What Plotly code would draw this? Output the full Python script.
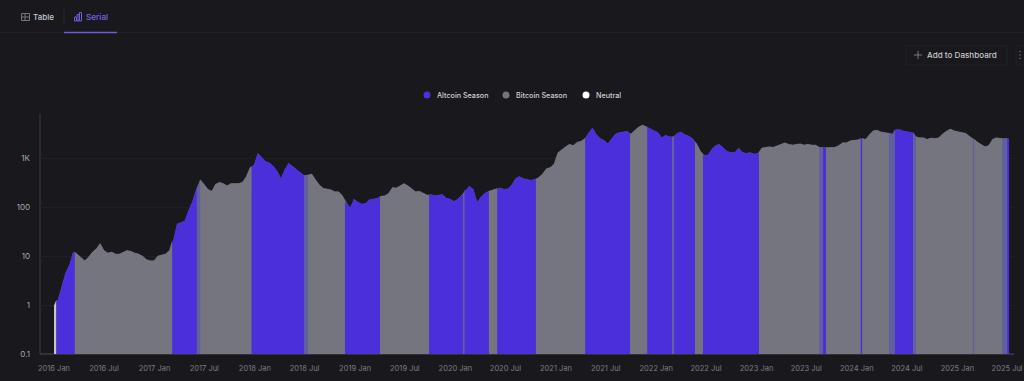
import numpy as np
import pandas as pd
import plotly.graph_objects as go

BG = "#18181d"
BLUE = "#4a2fdb"
GRAY = "#75757f"
MIX = "#625f9e"
NEUTRAL = "#c8c8cc"

# Price, one reading every 14 days from 2016-01-01
price_2016 = [.95,1.25,2.3,4.5,6.5,12,11,9.5,8,9.5,12,14,18,13,11.5,12,11,11,12,13,12.5,11.5,11,10,8.5,8,8]
price_2017 = [10,10.5,11,13,20,45,48,52,85,130,230,360,290,230,210,290,320,300,270,300,300,300,320,420,650,720]
price_2018 = [1250,1050,850,800,680,540,380,580,780,680,580,500,440,450,470,360,280,240,235,225,205,205,170,125,95,145]
price_2019 = [125,115,118,140,145,150,165,170,190,250,245,270,300,270,235,205,210,190,175,180,170,175,180,150,145,130]
price_2020 = [145,175,220,265,230,125,160,190,210,225,235,245,230,235,280,380,420,380,360,350,370,400,470,600,640,750]
price_2021 = [1280,1500,1700,1900,1800,2100,2200,2500,3300,4100,3000,2500,2300,1950,2500,3100,3300,3400,3500,3100,3700,4300,4700,4300,4000,3700]
price_2022 = [3300,2600,2900,2700,2700,3200,3400,3000,2800,2500,2000,1400,1150,1150,1500,1800,1900,1600,1350,1300,1300,1600,1300,1250,1300,1200]
price_2023 = [1250,1600,1650,1700,1650,1800,1900,2050,1900,1850,1900,1950,1850,1900,1850,1850,1650,1650,1600,1650,1650,1800,2050,2050,2250,2300]
price_2024 = [2350,2500,2400,3000,3600,3700,3400,3300,3200,3100,3800,3750,3500,3400,3300,2700,2600,2600,2400,2550,2500,2600,3100,3500,3900,3600]
price_2025 = [3400,3300,3200,2800,2400,2100,1900,1700,1800,2400,2600,2500,2500,2500]
prices = price_2016 + price_2017 + price_2018 + price_2019 + price_2020 + price_2021 + price_2022 + price_2023 + price_2024 + price_2025
dates = pd.date_range("2016-01-01", periods=len(prices), freq="14D")

# Season regimes: each begins on the date given and runs to the next one
season_dates = ["2016-01-01","2016-01-10","2016-03-17","2017-03-06","2017-06-04","2017-06-17","2017-12-20",
                "2018-06-29","2018-07-14","2018-11-25","2019-04-02","2019-09-27","2020-01-29","2020-02-03",
                "2020-05-02","2020-06-01","2020-10-20","2021-04-17","2021-09-28","2021-11-29","2022-02-28",
                "2022-03-07","2022-05-22","2022-06-20","2023-01-10","2023-08-17","2023-08-31","2023-09-11",
                "2024-01-15","2024-01-21","2024-04-27","2024-05-19","2024-07-24","2024-08-04","2025-02-26",
                "2025-03-04","2025-06-13","2025-07-01","2025-07-08"]
season_kinds = ["N","A","B","A","M","B","A",
                "M","B","A","B","A","M","A",
                "B","A","B","A","B","A","M",
                "A","B","A","B","M","A","B",
                "A","B","M","A","M","B","M",
                "B","M","A"]
legend_names = ["Altcoin Season", "Bitcoin Season", "Neutral"]
legend_colors = [BLUE, GRAY, "#ffffff"]
y_tick_values = [0.1, 1, 10, 100, 1000]
y_tick_labels = ["0.1", "1", "10", "100", "1K"]

COLORS = {"A": BLUE, "B": GRAY, "M": MIX, "N": NEUTRAL}
sd = pd.to_datetime(season_dates)
pr = np.array(prices, dtype=float)

def nearest(d):
    return pr[int(np.argmin(np.abs((dates - d).days)))]

fig = go.Figure()
# Underlay keeps the seams between regimes from showing the dark background
under = dates >= sd[1]
fig.add_trace(go.Scatter(x=dates[under], y=pr[under], mode="lines", line=dict(width=0, color=GRAY),
                         fill="tozeroy", fillcolor=GRAY, showlegend=False, hoverinfo="skip"))
for i, k in enumerate(season_kinds):
    a, b = sd[i], sd[i + 1]
    mask = (dates > a) & (dates < b)
    xs = [a] + list(dates[mask]) + [b]
    ys = [nearest(a)] + list(pr[mask]) + [nearest(b)]
    fig.add_trace(go.Scatter(x=xs, y=ys, mode="lines", line=dict(width=0.4, color=COLORS[k]),
                             fill="tozeroy", fillcolor=COLORS[k], showlegend=False, hoverinfo="skip"))

L, R, T, B = 40, 1014, 114, 354
def px(x):
    return (x - L) / (R - L)
def py(y):
    return (B - y) / (B - T)

shapes = []
def rect(x0, y0, x1, y1, line=None, fill=None, w=1):
    shapes.append(dict(type="rect", xref="paper", yref="paper", x0=px(x0), x1=px(x1), y0=py(y0), y1=py(y1),
                       line=dict(color=line or "rgba(0,0,0,0)", width=w if line else 0), fillcolor=fill or "rgba(0,0,0,0)", layer="below"))
def line(x0, y0, x1, y1, c, w=1):
    shapes.append(dict(type="line", xref="paper", yref="paper", x0=px(x0), x1=px(x1), y0=py(y0), y1=py(y1),
                       line=dict(color=c, width=w), layer="below"))
def dot(x, y, r, c):
    shapes.append(dict(type="circle", xref="paper", yref="paper", x0=px(x - r), x1=px(x + r),
                       y0=py(y + r), y1=py(y - r), fillcolor=c, line=dict(width=0)))

line(0, 32.5, 1024, 32.5, "#202026")
line(64, 32.5, 117, 32.5, "#6a5fd8", 1.5)
line(64, 9, 64, 25, "#26262c")
# Table icon
rect(21.5, 13.5, 29.5, 20.5, line="#77777c")
line(21.5, 17, 29.5, 17, "#77777c")
line(25, 13.5, 25, 20.5, "#77777c")
# Serial icon
rect(74.5, 17, 76.5, 21, line="#6a5fd8")
rect(77, 14.5, 79, 21, line="#6a5fd8")
rect(79.5, 12.5, 81.5, 21, line="#6a5fd8")
# Buttons
rect(906, 46, 1007, 65, line="#212127")
rect(1016, 46, 1030, 65, line="#212127")
line(914, 55, 922, 55, "#77777c")
line(918, 51, 918, 59, "#77777c")
for yy in (51.5, 55, 58.5):
    dot(1020, yy, 0.8, "#6d6d72")
# Axes
line(40, 114, 40, 354, "#3c3c42")
line(40, 354, 1014, 354, "#4a4a50")

def note(x, y, t, c, s=9, anchor="left", weight=400):
    fig.add_annotation(xref="paper", yref="paper", x=px(x), y=py(y), text=t, showarrow=False,
                       xanchor=anchor, yanchor="middle", borderpad=0, borderwidth=0,
                       font=dict(family="Inter", size=s, color=c, weight=weight))

note(33, 17, "Table", "#c8c8cc", 8, weight=500)
note(86, 17, "Serial", "#7468e0", 8.2, weight=500)
note(927, 55, "Add to Dashboard", "#c8c8cc", 8.1, weight=500)

# Legend row
legend_dots = [427, 506, 586]
for n, c, d in zip(legend_names, legend_colors, legend_dots):
    dot(d, 95, 3.5, c)
    note(d + 10, 95, n, "#d0d0d4", 7.2, weight=500)

fig.update_layout(
    width=1024, height=381, autosize=False,
    margin=dict(l=L, r=1024 - R, t=T, b=381 - B, pad=0),
    paper_bgcolor=BG, plot_bgcolor=BG,
    shapes=shapes,
    showlegend=False,
    xaxis=dict(type="date", range=["2015-11-11", "2025-07-26"], tick0="2016-01-01", dtick="M6",
               tickformat="%Y %b", showgrid=False, zeroline=False, showline=False, ticks="", automargin=False,
               tickfont=dict(family="Inter", size=7.5, color="#7d7d85"), ticklabelstandoff=8),
    yaxis=dict(type="log", range=[-1, 3.898], tickmode="array", tickvals=y_tick_values, ticktext=y_tick_labels,
               showgrid=True, gridcolor="#1f1f25", gridwidth=1, zeroline=False, showline=False, ticks="", automargin=False,
               tickfont=dict(family="Inter", size=8, color="#a8a8ae"), ticklabelstandoff=9),
    font=dict(family="Inter"),
)
fig.write_html("out.html", config={"displayModeBar": False},
               post_script="document.body.style.margin='0';document.documentElement.style.background='#18181d';")
